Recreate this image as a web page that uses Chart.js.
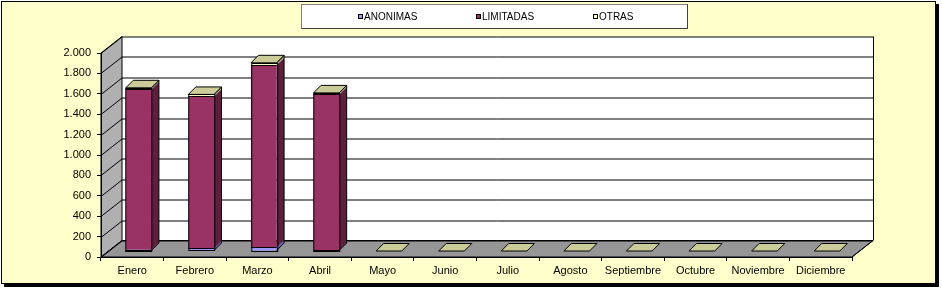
<!DOCTYPE html>
<html>
<head>
<meta charset="utf-8">
<script src="https://cdn.jsdelivr.net/npm/chart.js@4/dist/chart.umd.min.js"></script>
<style>
  html, body { margin: 0; padding: 0; background: #fff; }
  canvas { display: block; }
</style>
</head>
<body>
<canvas id="chart" width="942" height="290"></canvas>
<script>
// Datos
const meses = ['Enero', 'Febrero', 'Marzo', 'Abril', 'Mayo', 'Junio', 'Julio', 'Agosto', 'Septiembre', 'Octubre', 'Noviembre', 'Diciembre']
const anonimas = [12, 25, 35, 10, 0, 0, 0, 0, 0, 0, 0, 0]
const limitadas = [1573, 1490, 1785, 1525, 0, 0, 0, 0, 0, 0, 0, 0]
const otras = [15, 20, 25, 15, 0, 0, 0, 0, 0, 0, 0, 0]
const series = ['ANONIMAS', 'LIMITADAS', 'OTRAS']
const yMax = 2000
const yStep = 200

// Colores estilo Excel
const frente = ['#9999FF', '#993366', '#FFFFCC']
const lateral = ['#6666BB', '#5E1F3F', '#A3A37A']
const tapa = '#CCCC99'

Chart.defaults.font.family = "'Liberation Sans', Arial, sans-serif"
Chart.defaults.color = '#000'

// profundidad de paredes y de las barras
const wall = { dx: 21, dy: -16.5 }
const barPlane = { dx: 6.3, dy: -6 }
const barDepth = { dx: 7.5, dy: -7.5 }

const fmt = v => String(v).replace(/\B(?=(\d{3})+(?!\d))/g, '.')

const excel3d = {
  id: 'excel3d',
  beforeDraw(chart) {
    const ctx = chart.ctx
    const { left: L, right: R, top: T, bottom: B } = chart.chartArea

    // Marco con sombra
    ctx.save()
    ctx.fillStyle = '#000'
    ctx.fillRect(4, 4, 935, 283)
    ctx.fillStyle = '#FFFFCC'
    ctx.fillRect(1, 1, 935, 283)
    ctx.strokeStyle = '#000'
    ctx.lineWidth = 1
    ctx.strokeRect(1.5, 1.5, 934, 282)

    // Leyenda
    ctx.fillStyle = '#fff'
    ctx.fillRect(301, 4, 387, 25)
    ctx.strokeStyle = '#808080'
    ctx.strokeRect(301.5, 4.5, 386, 24)
    ctx.strokeStyle = '#404040'
    ctx.beginPath()
    ctx.moveTo(687.5, 4.5); ctx.lineTo(687.5, 28.5); ctx.lineTo(301.5, 28.5)
    ctx.stroke()
    const itemX = [358, 476, 593]
    ctx.font = "10px 'Liberation Sans', Arial, sans-serif"
    ctx.textBaseline = 'middle'
    chart.data.datasets.forEach((ds, i) => {
      ctx.fillStyle = ds.backgroundColor
      ctx.fillRect(itemX[i], 14, 5, 5)
      ctx.strokeStyle = '#000'
      ctx.strokeRect(itemX[i] + 0.5, 14.5, 4, 4)
      ctx.fillStyle = '#000'
      ctx.fillText(ds.label, itemX[i] + 6, 17)
    })

    // Pared del fondo
    ctx.fillStyle = '#fff'
    ctx.fillRect(L + wall.dx, T + wall.dy, R - L, B - T)

    // Pared lateral
    ctx.fillStyle = '#B0B0B0'
    ctx.beginPath()
    ctx.moveTo(L, T); ctx.lineTo(L + wall.dx, T + wall.dy)
    ctx.lineTo(L + wall.dx, B + wall.dy); ctx.lineTo(L, B)
    ctx.closePath()
    ctx.fill()
    ctx.strokeStyle = '#000'
    ctx.stroke()

    // Piso
    ctx.fillStyle = '#969696'
    ctx.beginPath()
    ctx.moveTo(L, B); ctx.lineTo(L + wall.dx, B + wall.dy)
    ctx.lineTo(R + wall.dx, B + wall.dy); ctx.lineTo(R, B)
    ctx.closePath()
    ctx.fill()
    ctx.stroke()

    // Líneas de división
    const ys = chart.scales.y
    ctx.beginPath()
    ys.ticks.forEach(t => {
      const py = Math.round(ys.getPixelForValue(t.value)) + 0.5
      ctx.moveTo(L, py)
      ctx.lineTo(L + wall.dx, py + wall.dy)
      ctx.lineTo(R + wall.dx, py + wall.dy)
    })
    ctx.moveTo(Math.round(R + wall.dx) + 0.5, T + wall.dy)
    ctx.lineTo(Math.round(R + wall.dx) + 0.5, B + wall.dy)
    ctx.moveTo(R, B)
    ctx.lineTo(R + wall.dx, B + wall.dy)
    ctx.stroke()
    ctx.restore()
  },
  beforeDatasetsDraw(chart) {
    chart.ctx.save()
    chart.ctx.translate(barPlane.dx, barPlane.dy)
  },
  afterDatasetsDraw(chart) {
    const ctx = chart.ctx
    const metas = chart.data.datasets.map((d, i) => chart.getDatasetMeta(i))
    ctx.strokeStyle = '#000'
    ctx.lineWidth = 1
    meses.forEach((m, j) => {
      let top = null
      let base = null
      let xL = 0, xR = 0
      metas.forEach((meta, i) => {
        const el = meta.data[j]
        const p = el.getProps(['x', 'y', 'base', 'width'], true)
        xL = p.x - p.width / 2
        xR = p.x + p.width / 2
        if (base === null) base = p.base
        const val = chart.data.datasets[i].data[j]
        if (val > 0) {
          // cara lateral del segmento
          ctx.fillStyle = lateral[i]
          ctx.beginPath()
          ctx.moveTo(xR, p.y); ctx.lineTo(xR + barDepth.dx, p.y + barDepth.dy)
          ctx.lineTo(xR + barDepth.dx, p.base + barDepth.dy); ctx.lineTo(xR, p.base)
          ctx.closePath()
          ctx.fill()
          top = p.y
        }
      })
      if (top === null) top = base
      // contorno de la cara lateral
      if (top !== base) {
        ctx.beginPath()
        ctx.moveTo(xR, top); ctx.lineTo(xR + barDepth.dx, top + barDepth.dy)
        ctx.lineTo(xR + barDepth.dx, base + barDepth.dy); ctx.lineTo(xR, base)
        ctx.stroke()
      }
      // tapa superior
      ctx.fillStyle = tapa
      ctx.beginPath()
      ctx.moveTo(xL, top); ctx.lineTo(xL + barDepth.dx, top + barDepth.dy)
      ctx.lineTo(xR + barDepth.dx, top + barDepth.dy); ctx.lineTo(xR, top)
      ctx.closePath()
      ctx.fill()
      ctx.stroke()
      // contorno del frente y divisiones entre segmentos
      if (top !== base) {
        ctx.strokeRect(Math.round(xL) + 0.5, Math.round(top) + 0.5, Math.round(xR - xL), Math.round(base - top))
        metas.forEach((meta, i) => {
          const val = chart.data.datasets[i].data[j]
          if (i > 0 && val > 0) {
            const y0 = Math.round(meta.data[j].base) + 0.5
            ctx.beginPath()
            ctx.moveTo(xL, y0); ctx.lineTo(xR, y0)
            ctx.stroke()
          }
        })
      }
    })
    ctx.restore()
  }
}

new Chart(document.getElementById('chart'), {
  type: 'bar',
  data: {
    labels: meses,
    datasets: [
      { label: series[0], data: anonimas, backgroundColor: frente[0] },
      { label: series[1], data: limitadas, backgroundColor: frente[1] },
      { label: series[2], data: otras, backgroundColor: frente[2] }
    ]
  },
  options: {
    responsive: false,
    animation: false,
    events: [],
    layout: { padding: { left: 0, top: 53, right: 90, bottom: 0 } },
    datasets: {
      bar: { barPercentage: 0.41, categoryPercentage: 1, borderWidth: 0, clip: false }
    },
    plugins: {
      legend: { display: false },
      tooltip: { enabled: false }
    },
    scales: {
      x: {
        stacked: true,
        grid: { display: true, drawOnChartArea: false, drawTicks: true, tickLength: 4, color: '#000', offset: true },
        border: { display: true, color: '#000' },
        ticks: { font: { size: 11 }, padding: 3, maxRotation: 0, autoSkip: false },
        afterFit: s => { s.height = 33 }
      },
      y: {
        stacked: true,
        min: 0,
        max: yMax,
        grid: { display: true, drawOnChartArea: false, drawTicks: true, tickLength: 4, color: '#000' },
        border: { display: true, color: '#000' },
        ticks: { stepSize: yStep, font: { size: 11 }, padding: 6, callback: v => fmt(v) },
        afterFit: s => { s.width = 101 }
      }
    }
  },
  plugins: [excel3d]
})
</script>
</body>
</html>
